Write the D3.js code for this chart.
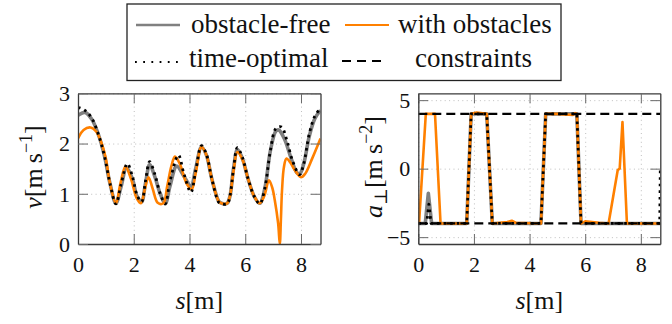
<!DOCTYPE html>
<html>
<head>
<meta charset="utf-8">
<script src="https://cdn.jsdelivr.net/npm/d3@7"></script>
<style>
  body { margin: 0; background: #fff; }
  svg text { font-family: "Liberation Serif", "Times New Roman", Tinos, "DejaVu Serif", "Noto Serif", FreeSerif, serif; }
</style>
</head>
<body>
<div id="chart"></div>
<script>
// velocity along path, [s, v]
const velObstacleFree = [[0,2.56],[0.25,2.62],[0.5,2.48],[0.75,2.15],[0.95,1.75],[1.15,1.2],[1.36,0.81],[1.55,1.15],[1.74,1.52],[1.95,1.3],[2.12,0.95],[2.28,0.84],[2.42,1.2],[2.57,1.58],[2.75,1.35],[2.95,1.0],[3.13,0.8],[3.3,1.15],[3.54,1.55],[3.8,1.35],[4.05,1.15],[4.22,1.5],[4.43,1.93],[4.6,1.78],[4.8,1.3],[5.05,0.85],[5.15,0.81],[5.35,0.81],[5.45,0.95],[5.58,1.5],[5.72,1.88],[5.9,1.7],[6.1,1.3],[6.32,0.95],[6.52,0.81],[6.7,1.1],[6.9,1.85],[7.1,2.25],[7.2,2.27],[7.4,2.1],[7.65,1.7],[7.85,1.42],[7.96,1.4],[8.1,1.6],[8.3,2.15],[8.5,2.5],[8.7,2.66]];
const velWithObstacles = [[0,2.1],[0.2,2.27],[0.45,2.32],[0.65,2.24],[0.85,2.0],[1.0,1.7],[1.15,1.2],[1.36,0.81],[1.52,1.2],[1.7,1.54],[1.9,1.3],[2.1,0.92],[2.26,0.81],[2.4,1.1],[2.53,1.33],[2.68,1.1],[2.86,0.82],[3.06,0.81],[3.2,1.15],[3.35,1.55],[3.48,1.74],[3.65,1.6],[3.9,1.2],[4.08,1.09],[4.22,1.4],[4.43,1.93],[4.6,1.78],[4.8,1.3],[5.05,0.85],[5.15,0.81],[5.35,0.81],[5.45,0.95],[5.58,1.45],[5.72,1.83],[5.9,1.68],[6.1,1.3],[6.32,0.95],[6.52,0.81],[6.68,0.95],[6.85,1.27],[6.97,1.12],[7.06,0.87],[7.18,0.41],[7.24,0],[7.28,0.5],[7.32,1.07],[7.39,1.54],[7.48,1.7],[7.62,1.62],[7.78,1.47],[8.0,1.33],[8.15,1.4],[8.4,1.7],[8.7,2.1]];
const velTimeOptimal = [[0,2.72],[0.25,2.66],[0.5,2.5],[0.75,2.15],[0.95,1.75],[1.15,1.2],[1.36,0.8],[1.55,1.2],[1.77,1.6],[1.95,1.35],[2.12,0.97],[2.28,0.84],[2.42,1.25],[2.57,1.64],[2.75,1.4],[2.95,1.0],[3.13,0.8],[3.3,1.25],[3.6,1.77],[3.8,1.4],[4.05,1.03],[4.22,1.45],[4.43,1.96],[4.6,1.8],[4.8,1.3],[5.05,0.83],[5.15,0.8],[5.35,0.8],[5.45,0.95],[5.58,1.5],[5.72,1.92],[5.9,1.72],[6.1,1.3],[6.32,0.95],[6.52,0.8],[6.7,1.1],[6.9,1.85],[7.1,2.3],[7.3,2.33],[7.5,2.05],[7.7,1.65],[7.95,1.38],[8.1,1.6],[8.3,2.2],[8.5,2.55],[8.7,2.7]];

// lateral acceleration, [s, a]
const accObstacleFree = [[0,-4],[0.25,-4],[0.36,-1.8],[0.48,-4],[1.74,-4],[1.9,4],[2.46,4],[2.66,-4],[4.41,-4],[4.58,4],[5.7,4],[5.85,-4],[8.7,-4]];
const accWithObstacles = [[0,-4],[0.03,-3.9],[0.27,4],[0.6,4],[0.8,-4],[1.74,-4],[1.9,4],[2.1,4.1],[2.46,4],[2.66,-4],[3.2,-3.9],[3.36,-3.8],[3.5,-3.95],[4.41,-4],[4.58,4],[5.0,4],[5.55,3.92],[5.64,4.05],[5.7,4],[5.85,-4],[6.0,-3.85],[6.5,-3.95],[6.84,-4],[7.17,-0.1],[7.24,0],[7.34,3.4],[7.5,-4],[8.7,-4]];
const accTimeOptimal = [[0,-4],[0.3,-4],[0.38,-2.6],[0.46,-4],[1.74,-4],[1.9,4],[2.46,4],[2.66,-4],[4.41,-4],[4.58,4],[5.7,4],[5.85,-4],[8.68,-4],[8.7,0]];
const accLimits = [4, -4];

const sTicks = [0, 2, 4, 6, 8];
const vTicks = [0, 1, 2, 3];
const aTicks = [-5, 0, 5];
const legendLabels = ["obstacle-free", "with obstacles", "time-optimal", "constraints"];

const width = 672, height = 324;
const grey = "#808080", orange = "#ff8000";
const serif = "'Liberation Serif', 'Times New Roman', Tinos, 'DejaVu Serif', 'Noto Serif', serif";

const svg = d3.select("#chart").append("svg")
    .attr("width", width)
    .attr("height", height)
    .attr("font-family", serif);

const plotTop = 93.3, plotBottom = 244;

function drawPanel(id, x0, x1, yDomain, yTicks, series, limits) {
  const x = d3.scaleLinear().domain([0, 8.7]).range([x0, x1]);
  const y = d3.scaleLinear().domain(yDomain).range([plotBottom, plotTop]);
  const g = svg.append("g");

  g.append("clipPath").attr("id", "clip-" + id)
    .append("rect").attr("x", x0).attr("y", plotTop).attr("width", x1 - x0).attr("height", plotBottom - plotTop);

  // dotted grid
  const grid = g.append("g");
  grid.append("g")
      .attr("transform", `translate(0,${plotBottom})`)
      .call(d3.axisBottom(x).tickValues(sTicks).tickSize(-(plotBottom - plotTop)).tickFormat(""))
      .call(a => a.select(".domain").remove());
  grid.append("g")
      .attr("transform", `translate(${x0},0)`)
      .call(d3.axisLeft(y).tickValues(yTicks).tickSize(-(x1 - x0)).tickFormat(""))
      .call(a => a.select(".domain").remove());
  grid.selectAll("line").attr("stroke", "#b8b8b8").attr("stroke-width", 0.9).attr("stroke-dasharray", "1 3.4");

  const plot = g.append("g").attr("clip-path", `url(#clip-${id})`);
  series.forEach(sr => {
    const line = d3.line().curve(sr.curve).x(d => x(d[0])).y(d => y(d[1]));
    plot.append("path")
        .datum(sr.data)
        .attr("fill", "none")
        .attr("stroke", sr.color)
        .attr("stroke-width", sr.width)
        .attr("stroke-dasharray", sr.dash || null)
        .attr("stroke-linejoin", "round")
        .attr("d", line);
  });
  (limits || []).forEach(v => {
    plot.append("line")
        .attr("x1", x0).attr("x2", x1)
        .attr("y1", y(v)).attr("y2", y(v))
        .attr("stroke", "#000").attr("stroke-width", 2.2)
        .attr("stroke-dasharray", "9 5");
  });

  // inward ticks on all four sides
  const tick = 10;
  const axB = g.append("g").attr("transform", `translate(0,${plotBottom})`)
      .call(d3.axisBottom(x).tickValues(sTicks).tickSizeInner(-tick).tickSizeOuter(0).tickPadding(12));
  const axT = g.append("g").attr("transform", `translate(0,${plotTop})`)
      .call(d3.axisTop(x).tickValues(sTicks).tickSizeInner(-tick).tickSizeOuter(0).tickFormat(""));
  const axL = g.append("g").attr("transform", `translate(${x0},0)`)
      .call(d3.axisLeft(y).tickValues(yTicks).tickSizeInner(-tick).tickSizeOuter(0).tickPadding(8)
        .tickFormat(d => d < 0 ? "\u2212" + Math.abs(d) : d));
  const axR = g.append("g").attr("transform", `translate(${x1},0)`)
      .call(d3.axisRight(y).tickValues(yTicks).tickSizeInner(-tick).tickSizeOuter(0).tickFormat(""));
  [axB, axT, axL, axR].forEach(a => {
    a.attr("font-family", serif);
    a.select(".domain").attr("stroke", "#3a3a3a").attr("stroke-width", 1.3);
    a.selectAll(".tick line").attr("stroke", "#6a6a6a").attr("stroke-width", 1);
    a.selectAll("text").attr("font-size", 22).attr("fill", "#111");
  });
  axL.selectAll("text").attr("dy", "0.33em");
  axB.selectAll("text").attr("dy", "0.72em");

  // x label
  const xl = g.append("text")
      .attr("x", (x0 + x1) / 2).attr("y", 309)
      .attr("text-anchor", "middle")
      .attr("font-size", 26).attr("fill", "#111");
  xl.append("tspan").attr("font-style", "italic").text("s");
  xl.append("tspan").text("[m]");
  return g;
}

drawPanel("v", 78, 320.5, [0, 3], vTicks, [
  { data: velObstacleFree, color: grey, width: 3.6, curve: d3.curveCatmullRom.alpha(0.5) },
  { data: velWithObstacles, color: orange, width: 2.6, curve: d3.curveCatmullRom.alpha(0.5) },
  { data: velTimeOptimal, color: "#000", width: 2.8, dash: "2.6 4", curve: d3.curveCatmullRom.alpha(0.5) }
]);

drawPanel("a", 418.3, 660.3, [-5.5, 5.5], aTicks, [
  { data: accObstacleFree, color: grey, width: 3.6, curve: d3.curveLinear },
  { data: accWithObstacles, color: orange, width: 2.6, curve: d3.curveLinear },
  { data: accTimeOptimal, color: "#000", width: 2.8, dash: "2.6 4", curve: d3.curveLinear }
], accLimits);

// y labels, rotated
const yl1 = svg.append("text")
    .attr("transform", "translate(42,167) rotate(-90)")
    .attr("text-anchor", "middle")
    .attr("font-size", 26).attr("fill", "#111");
yl1.append("tspan").attr("font-style", "italic").text("v");
yl1.append("tspan").text("[m\u2009s");
yl1.append("tspan").attr("font-size", 18).attr("dy", -10).text("\u22121");
yl1.append("tspan").attr("dy", 10).text("]");

const yl2 = svg.append("text")
    .attr("transform", "translate(382,167) rotate(-90)")
    .attr("text-anchor", "middle")
    .attr("font-size", 26).attr("fill", "#111");
yl2.append("tspan").attr("font-style", "italic").text("a");
yl2.append("tspan").attr("font-size", 18).attr("dy", 5).text("\u22a5");
yl2.append("tspan").attr("dy", -5).text("[m\u2009s");
yl2.append("tspan").attr("font-size", 18).attr("dy", -10).text("\u22122");
yl2.append("tspan").attr("dy", 10).text("]");

// legend
const legend = svg.append("g");
legend.append("rect")
    .attr("x", 127).attr("y", 4).attr("width", 434).attr("height", 76.5)
    .attr("fill", "#fff").attr("stroke", "#222").attr("stroke-width", 1.3);
const legendItems = [
  { label: legendLabels[0], color: grey, width: 2.4, x1: 136, x2: 180, y: 25, tx: 191, ty: 33 },
  { label: legendLabels[1], color: orange, width: 2.2, x1: 345, x2: 389, y: 25, tx: 398, ty: 33 },
  { label: legendLabels[2], color: "#000", width: 1.8, dash: "1.8 6.4", x1: 135, x2: 178, y: 62, tx: 189, ty: 67 },
  { label: legendLabels[3], color: "#000", width: 2.2, dash: "9 6", x1: 342, x2: 383, y: 61, tx: 415, ty: 67 }
];
legendItems.forEach(it => {
  legend.append("line")
      .attr("x1", it.x1).attr("x2", it.x2).attr("y1", it.y).attr("y2", it.y)
      .attr("stroke", it.color).attr("stroke-width", it.width)
      .attr("stroke-dasharray", it.dash || null);
  legend.append("text")
      .attr("x", it.tx).attr("y", it.ty)
      .attr("font-size", 27).attr("fill", "#111")
      .text(it.label);
});
</script>
</body>
</html>
